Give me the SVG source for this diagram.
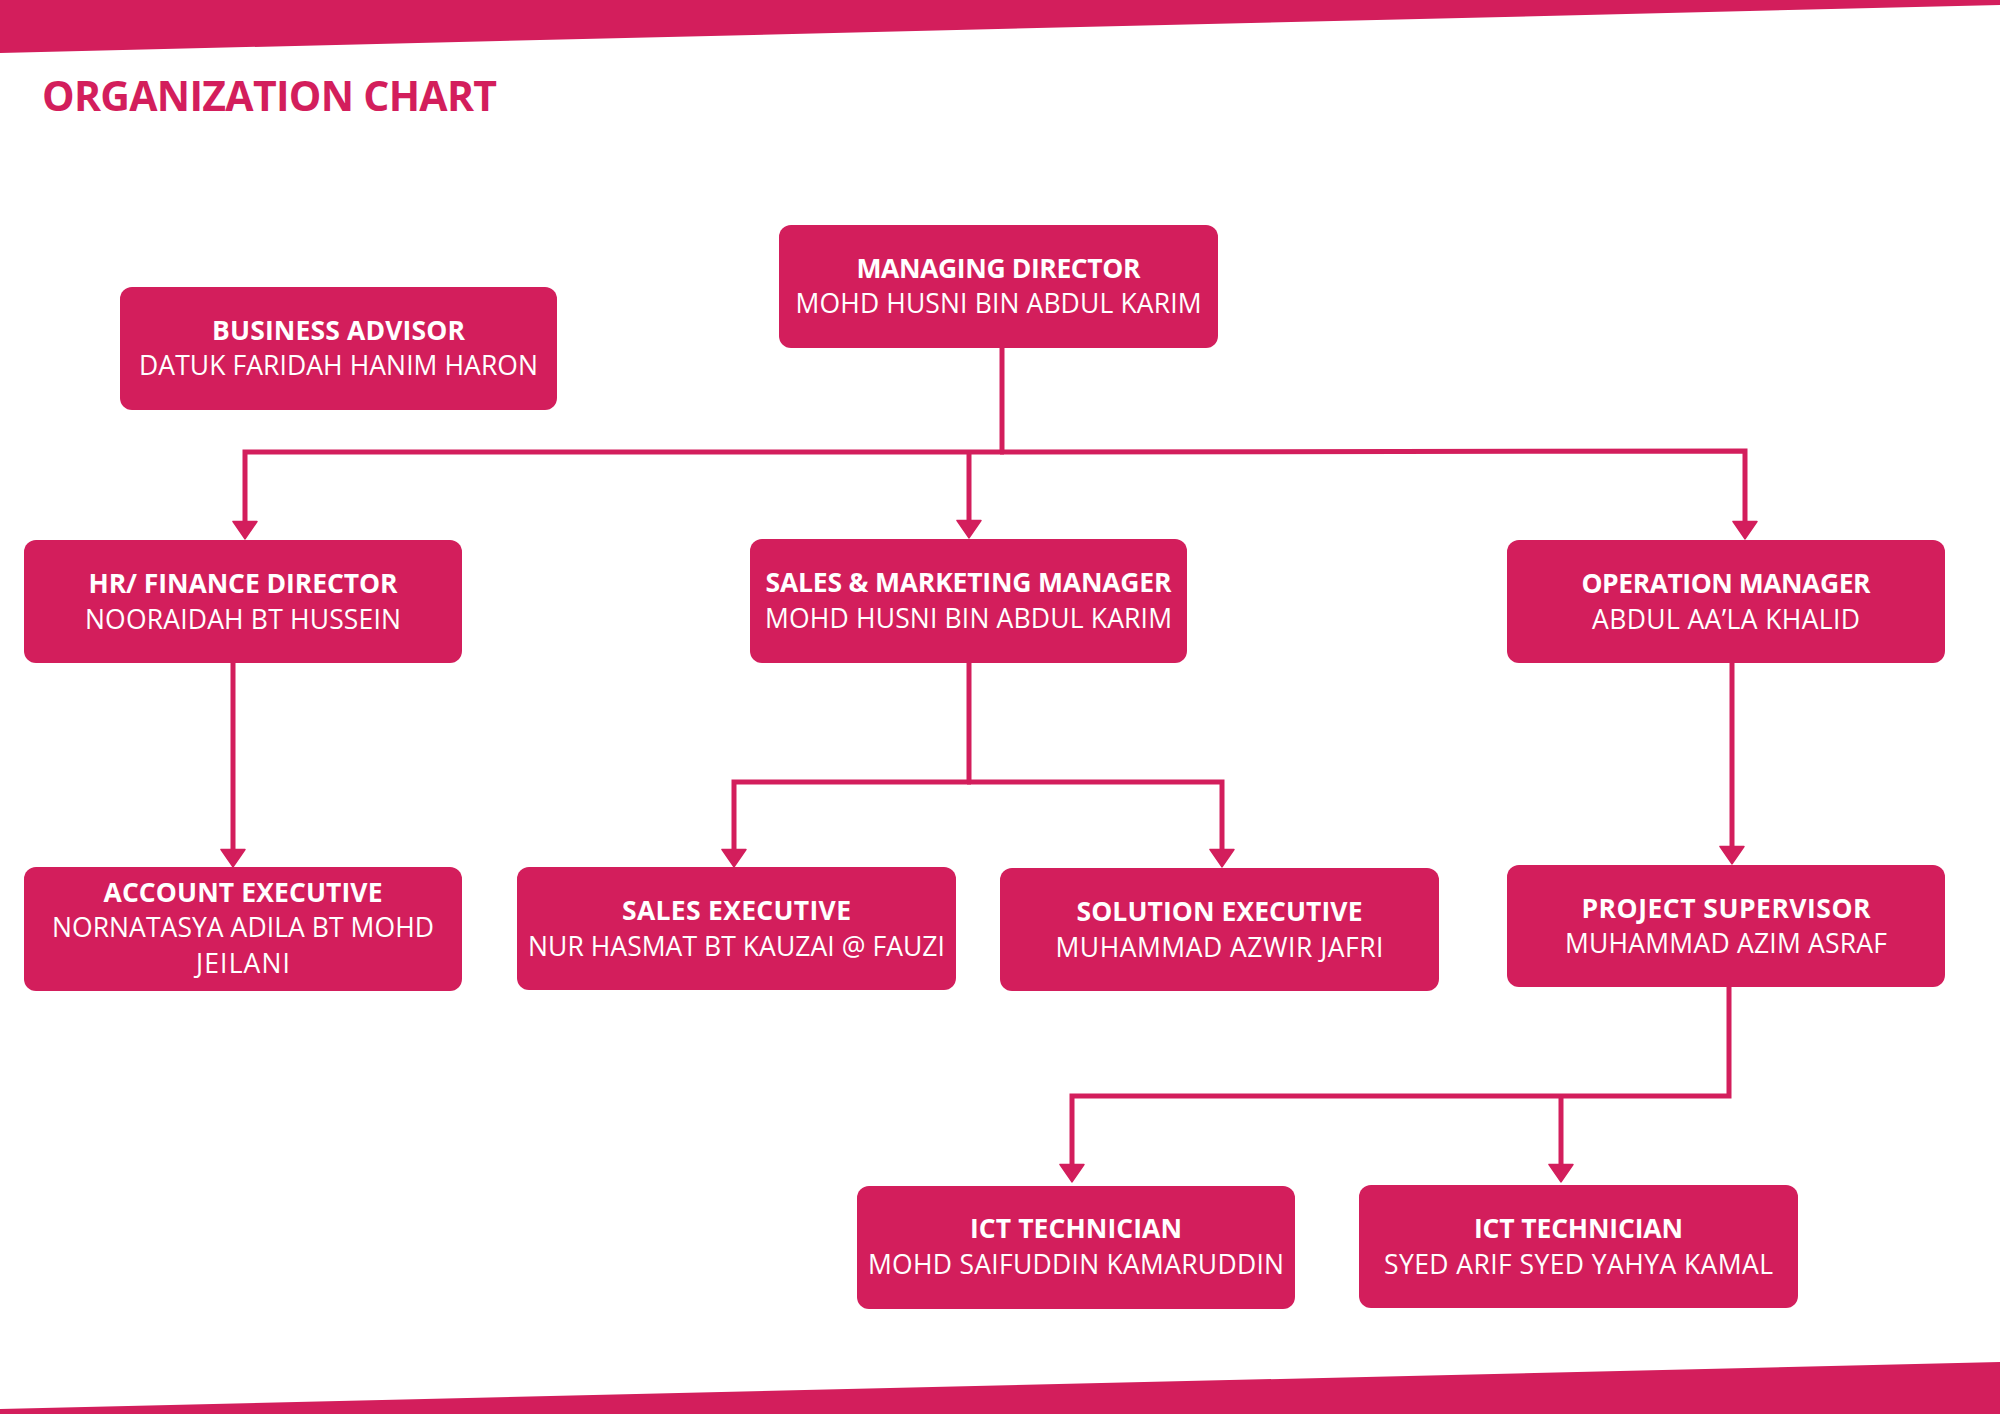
<svg xmlns="http://www.w3.org/2000/svg" width="2000" height="1414" viewBox="0 0 2000 1414">
<defs>
<style>
.bar{fill:#D31E5C}
.box{fill:#D31E5C}
.t{font-family:"Open Sans","Noto Sans","Liberation Sans",sans-serif;font-size:26.5px;font-weight:700;fill:#ffffff;text-anchor:middle}
.n{font-family:"Open Sans","Noto Sans","Liberation Sans",sans-serif;font-size:26.5px;font-weight:400;fill:#ffffff;text-anchor:middle}
.title{font-family:"Open Sans","Noto Sans","Liberation Sans",sans-serif;font-size:41px;font-weight:700;fill:#D31E5C}
.c{fill:none;stroke:#D31E5C;stroke-width:5}
.ca{fill:none;stroke:#D31E5C;stroke-width:5;marker-end:url(#arr)}
</style>
<marker id="arr" markerUnits="userSpaceOnUse" markerWidth="24" markerHeight="26" viewBox="-1 -12 18 24" refX="6" refY="0" orient="auto">
<path d="M0,-11 L16,0 L0,11 Z" fill="#D31E5C" stroke="#D31E5C" stroke-width="1.5" stroke-linejoin="round"/>
</marker>
</defs>
<rect width="2000" height="1414" fill="#ffffff"/>
<polygon class="bar" points="0,0 2000,0 2000,5 0,53"/>
<polygon class="bar" points="0,1409 2000,1362 2000,1414 0,1414"/>
<text class="title" x="42" y="111" textLength="455">ORGANIZATION CHART</text>

<g id="connectors">
<path class="c" d="M1002,348 V452"/>
<path class="ca" d="M1004,452 H245 V528"/>
<path class="ca" d="M969,452 V527"/>
<path class="ca" d="M1000,452 L1745,451 V528"/>
<path class="ca" d="M233,663 V856"/>
<path class="c" d="M969,663 V782"/>
<path class="ca" d="M971,782 H734 V856"/>
<path class="ca" d="M967,782 H1222 V856"/>
<path class="ca" d="M1732,663 V853"/>
<path class="ca" d="M1729,987 V1096 H1072 V1171"/>
<path class="ca" d="M1561,1096 V1171"/>
</g>

<g id="managing-director">
<rect class="box" x="779" y="225" width="439" height="123" rx="12"/>
<text class="t" x="998.5" y="278" textLength="284">MANAGING DIRECTOR</text>
<text class="n" x="998.5" y="313" textLength="406">MOHD HUSNI BIN ABDUL KARIM</text>
</g>
<g id="business-advisor">
<rect class="box" x="120" y="287" width="437" height="123" rx="12"/>
<text class="t" x="338.5" y="340" textLength="253">BUSINESS ADVISOR</text>
<text class="n" x="338.5" y="375" textLength="399">DATUK FARIDAH HANIM HARON</text>
</g>
<g id="hr-finance-director">
<rect class="box" x="24" y="540" width="438" height="123" rx="12"/>
<text class="t" x="243" y="593" textLength="309">HR/ FINANCE DIRECTOR</text>
<text class="n" x="243" y="629" textLength="316">NOORAIDAH BT HUSSEIN</text>
</g>
<g id="sales-marketing-manager">
<rect class="box" x="750" y="539" width="437" height="124" rx="12"/>
<text class="t" x="968.5" y="592" textLength="406">SALES &amp; MARKETING MANAGER</text>
<text class="n" x="968.5" y="628" textLength="407">MOHD HUSNI BIN ABDUL KARIM</text>
</g>
<g id="operation-manager">
<rect class="box" x="1507" y="540" width="438" height="123" rx="12"/>
<text class="t" x="1726" y="593" textLength="289">OPERATION MANAGER</text>
<text class="n" x="1726" y="629" textLength="268">ABDUL AA’LA KHALID</text>
</g>
<g id="account-executive">
<rect class="box" x="24" y="867" width="438" height="124" rx="12"/>
<text class="t" x="243" y="902" textLength="279">ACCOUNT EXECUTIVE</text>
<text class="n" x="243" y="937" textLength="382">NORNATASYA ADILA BT MOHD</text>
<text class="n" x="243" y="973" textLength="94">JEILANI</text>
</g>
<g id="sales-executive">
<rect class="box" x="517" y="867" width="439" height="123" rx="12"/>
<text class="t" x="736.5" y="920" textLength="229">SALES EXECUTIVE</text>
<text class="n" x="736.5" y="956" textLength="417">NUR HASMAT BT KAUZAI @ FAUZI</text>
</g>
<g id="solution-executive">
<rect class="box" x="1000" y="868" width="439" height="123" rx="12"/>
<text class="t" x="1219.5" y="921" textLength="286">SOLUTION EXECUTIVE</text>
<text class="n" x="1219.5" y="957" textLength="328">MUHAMMAD AZWIR JAFRI</text>
</g>
<g id="project-supervisor">
<rect class="box" x="1507" y="865" width="438" height="122" rx="12"/>
<text class="t" x="1726" y="918" textLength="289">PROJECT SUPERVISOR</text>
<text class="n" x="1726" y="953" textLength="322">MUHAMMAD AZIM ASRAF</text>
</g>
<g id="ict-technician-1">
<rect class="box" x="857" y="1186" width="438" height="123" rx="12"/>
<text class="t" x="1076" y="1238" textLength="212">ICT TECHNICIAN</text>
<text class="n" x="1076" y="1274" textLength="416">MOHD SAIFUDDIN KAMARUDDIN</text>
</g>
<g id="ict-technician-2">
<rect class="box" x="1359" y="1185" width="439" height="123" rx="12"/>
<text class="t" x="1578.5" y="1238" textLength="209">ICT TECHNICIAN</text>
<text class="n" x="1578.5" y="1274" textLength="389">SYED ARIF SYED YAHYA KAMAL</text>
</g>
</svg>
